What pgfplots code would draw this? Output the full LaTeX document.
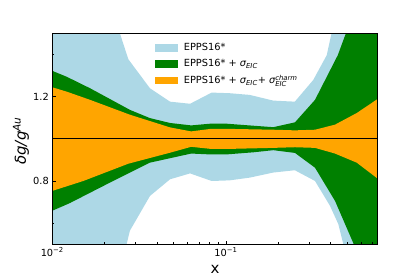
\documentclass[border=0pt]{standalone}
\usepackage{pgfplots}
\pgfplotsset{compat=1.18}
\usepackage{amsmath}
\usepackage{fontspec}
\setmainfont{DejaVu Sans}
\definecolor{lblue}{HTML}{ADD8E6}
\definecolor{mgreen}{HTML}{008000}
\definecolor{morange}{HTML}{FFA500}
\begin{document}
\begin{tikzpicture}[x=1pt,y=1pt]
\useasboundingbox (0,0) rectangle (420,280);
\begin{axis}[
  at={(52.3pt,35.7pt)}, anchor=south west,
  scale only axis, width=325.4pt, height=211pt,
  xmode=log, xmin=0.01, xmax=0.747, ymin=0.5, ymax=1.5,
  axis on top,
  tick pos=left, tick align=inside,
  major tick length=3.5pt, minor tick length=2pt,
  every tick/.style={black, line width=0.6pt},
  axis line style={line width=0.8pt},
  xtick={0.01,0.1}, xticklabels={10\textsuperscript{−2},10\textsuperscript{−1}},
  minor xtick={0.02,0.03,0.04,0.05,0.06,0.07,0.08,0.09,0.2,0.3,0.4,0.5,0.6,0.7},
  ytick={0.8,1.2}, yticklabels={0.8,1.2}, minor ytick={0.6,1.0,1.4},
  ticklabel style={font=\fontsize{9.8}{11}\selectfont},
  xlabel={x},
  xlabel style={at={(axis description cs:0.5,-0.137)}, anchor=base, font=\fontsize{15}{18}\selectfont},
  ylabel={\itshape δg/g\textsuperscript{Au}},
  ylabel style={at={(axis description cs:-0.096,0.49)}, anchor=center, font=\fontsize{15}{18}\selectfont},
  legend style={at={(axis description cs:0.3156,0.96)}, anchor=north west, draw=none, fill=none,
    font=\fontsize{9.8}{11}\selectfont, row sep=4pt, inner sep=0pt, nodes={inner sep=1.5pt}},
  legend cell align=left,
]
\addplot[fill=lblue, draw=none, forget plot] coordinates {
(0.01,2.0) (0.0245,1.5) (0.0274,1.377) (0.0365,1.2395) (0.0476,1.176) (0.0621,1.166) (0.0827,1.219) (0.105,1.216) (0.137,1.208) (0.187,1.181) (0.249,1.176) (0.318,1.279) (0.38,1.396) (0.405,1.5) (0.747,2.0)
(0.747,0.0) (0.473,0.502) (0.443,0.596) (0.397,0.682) (0.3255,0.800) (0.249,0.851) (0.187,0.840) (0.137,0.816) (0.105,0.803) (0.0827,0.800) (0.0621,0.836) (0.0476,0.808) (0.0365,0.729) (0.028,0.565) (0.0268,0.502) (0.01,0.0) (0.01,2.0)};
\addplot[fill=mgreen, draw=none, forget plot] coordinates {
(0.01,1.322) (0.0121,1.294) (0.0165,1.2395) (0.028,1.137) (0.0365,1.098) (0.0476,1.075) (0.063,1.0635) (0.0809,1.0715) (0.1009,1.0715) (0.1437,1.062) (0.1872,1.055) (0.2495,1.078) (0.3254,1.1845) (0.44,1.396) (0.49,1.5) (0.747,2.0)
(0.747,0.0) (0.541,0.505) (0.4241,0.706) (0.3254,0.863) (0.2495,0.933) (0.1872,0.946) (0.1437,0.936) (0.1009,0.926) (0.0809,0.926) (0.063,0.930) (0.0365,0.887) (0.02056,0.7845) (0.0126,0.695) (0.01,0.659) (0.01,1.322)};
\addplot[fill=morange, draw=none, forget plot] coordinates {
(0.01,1.244) (0.0121,1.2235) (0.0165,1.1845) (0.028,1.114) (0.0476,1.054) (0.063,1.035) (0.0809,1.0466) (0.1097,1.0466) (0.1872,1.043) (0.2495,1.040) (0.3254,1.043) (0.4241,1.067) (0.5655,1.122) (0.747,1.189)
(0.747,0.811) (0.5655,0.887) (0.4241,0.930) (0.3254,0.957) (0.2495,0.960) (0.1872,0.957) (0.1097,0.9525) (0.0809,0.9525) (0.063,0.962) (0.0476,0.934) (0.0274,0.882) (0.01508,0.800) (0.01,0.753) (0.01,1.244)};
\addplot[black, line width=0.6pt, forget plot] coordinates {(0.01,1) (0.747,1)};
\addlegendimage{legend image code/.code={\fill[lblue] (0pt,-3.3pt) rectangle (22pt,3.3pt); \path[draw=none,fill=none] (22pt,0pt) rectangle (27pt,0.1pt);}}
\addlegendentry{EPPS16*}
\addlegendimage{legend image code/.code={\fill[mgreen] (0pt,-3.3pt) rectangle (22pt,3.3pt); \path[draw=none,fill=none] (22pt,0pt) rectangle (27pt,0.1pt);}}
\addlegendentry{EPPS16* + $\text{\itshape σ}_{\text{\itshape EIC}}$}
\addlegendimage{legend image code/.code={\fill[morange] (0pt,-3.3pt) rectangle (22pt,3.3pt); \path[draw=none,fill=none] (22pt,0pt) rectangle (27pt,0.1pt);}}
\addlegendentry{EPPS16* + $\text{\itshape σ}_{\text{\itshape EIC}}$+ $\text{\itshape σ}_{\text{\itshape EIC}}^{\text{\itshape charm}}$}
\end{axis}
\end{tikzpicture}
\end{document}
